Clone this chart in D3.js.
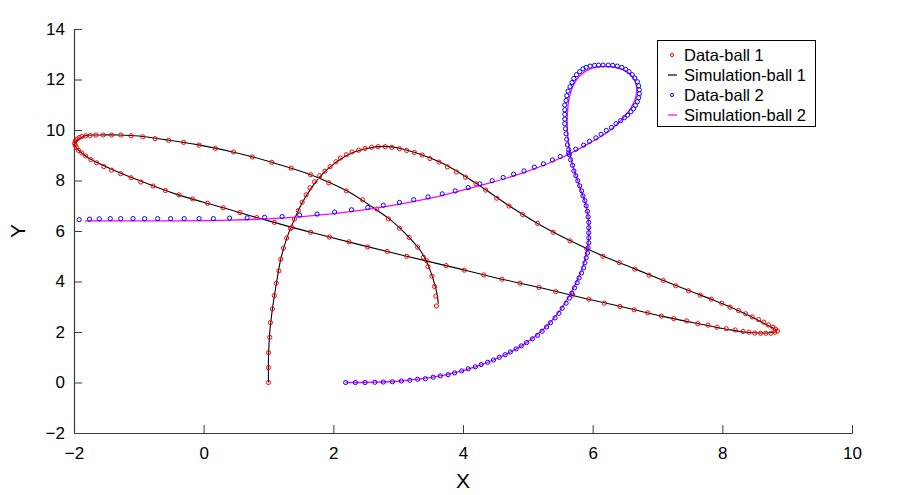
<!DOCTYPE html>
<html>
<head>
<meta charset="utf-8">
<script src="https://cdn.jsdelivr.net/npm/d3@7"></script>
<style>
  html, body { margin: 0; padding: 0; background: #fff; }
  svg { display: block; font-family: "Liberation Sans", Arial, Helvetica, sans-serif; }
</style>
</head>
<body>
<svg id="chart" width="898" height="495"></svg>
<script>
// ---- Data ----
const xTicks = [-2, 0, 2, 4, 6, 8, 10];
const yTicks = [-2, 0, 2, 4, 6, 8, 10, 12, 14];
const legendLabels = ["Data-ball 1", "Simulation-ball 1", "Data-ball 2", "Simulation-ball 2"];

const ball1Data = [
  [1.00,0.00],[1.00,0.59],[1.00,1.18],[1.02,1.79],[1.03,2.37],[1.06,2.91],[1.09,3.44],[1.12,3.93],
  [1.16,4.42],[1.19,4.88],[1.23,5.32],[1.28,5.72],[1.34,6.10],[1.40,6.47],[1.46,6.81],[1.52,7.14],
  [1.58,7.43],[1.64,7.71],[1.71,7.95],[1.79,8.19],[1.87,8.37],[1.95,8.55],[2.04,8.74],[2.11,8.89],
  [2.20,9.02],[2.29,9.13],[2.39,9.20],[2.49,9.27],[2.59,9.32],[2.69,9.34],[2.80,9.34],[2.90,9.31],
  [3.02,9.26],[3.13,9.19],[3.25,9.11],[3.37,9.01],[3.49,8.87],[3.63,8.73],[3.76,8.54],[3.90,8.34],
  [4.04,8.13],[4.20,7.87],[4.35,7.62],[4.52,7.30],[4.71,6.99],[4.92,6.65],[5.15,6.30],[5.39,5.95],
  [5.65,5.61],[5.91,5.29],[6.16,5.00],[6.41,4.75],[6.65,4.49],[6.87,4.25],[7.09,4.04],[7.28,3.83],
  [7.48,3.63],[7.66,3.46],[7.83,3.30],[7.99,3.14],[8.12,2.98],[8.25,2.85],[8.36,2.72],[8.46,2.60],
  [8.56,2.49],[8.64,2.39],[8.71,2.28],[8.78,2.19],[8.82,2.11],[8.85,2.04],[8.81,1.99],[8.75,1.95],
  [8.67,1.95],[8.59,1.95],[8.50,1.96],[8.41,1.99],[8.32,2.02],[8.20,2.08],[8.06,2.13],[7.92,2.19],
  [7.78,2.27],[7.62,2.33],[7.45,2.44],[7.25,2.53],[7.06,2.63],[6.85,2.76],[6.64,2.88],[6.42,3.01],
  [6.18,3.14],[5.94,3.30],[5.69,3.46],[5.43,3.60],[5.17,3.77],[4.88,3.93],[4.60,4.09],[4.32,4.26],
  [4.02,4.45],[3.74,4.63],[3.44,4.82],[3.13,5.00],[2.83,5.19],[2.53,5.37],[2.24,5.57],[1.94,5.76],
  [1.65,5.95],[1.36,6.14],[1.09,6.34],[0.82,6.53],[0.56,6.73],[0.30,6.92],[0.06,7.10],[-0.17,7.27],
  [-0.38,7.43],[-0.59,7.60],[-0.78,7.78],[-0.97,7.94],[-1.12,8.11],[-1.28,8.27],[-1.42,8.41],[-1.54,8.55],
  [-1.65,8.70],[-1.74,8.83],[-1.82,8.97],[-1.88,9.09],[-1.93,9.19],[-1.96,9.30],[-1.98,9.39],[-1.99,9.47],
  [-1.98,9.56],[-1.95,9.64],[-1.92,9.70],[-1.88,9.74],[-1.82,9.77],[-1.75,9.78],[-1.66,9.80],[-1.55,9.80],
  [-1.42,9.80],[-1.28,9.80],[-1.12,9.77],[-0.94,9.73],[-0.75,9.66],[-0.54,9.59],[-0.31,9.51],[-0.07,9.40],
  [0.18,9.27],[0.46,9.13],[0.75,8.93],[1.05,8.72],[1.35,8.49],[1.65,8.23],[1.93,7.91],[2.20,7.59],
  [2.45,7.24],[2.67,6.87],[2.85,6.48],[3.02,6.11],[3.17,5.74],[3.30,5.36],[3.39,4.96],[3.46,4.59],
  [3.52,4.21],[3.56,3.80],[3.58,3.42],[3.59,3.03]
];

const ball1Sim = [
  [1.00,0.00],[1.00,1.00],[1.02,2.00],[1.06,2.90],[1.12,3.90],[1.19,4.90],[1.28,5.70],[1.40,6.47],
  [1.52,7.12],[1.66,7.70],[1.83,8.25],[2.03,8.70],[2.25,9.05],[2.50,9.26],[2.78,9.35],[3.05,9.26],
  [3.35,9.03],[3.65,8.72],[3.95,8.30],[4.30,7.72],[4.70,7.02],[5.15,6.30],[5.65,5.62],[6.15,5.02],
  [6.65,4.50],[7.10,4.03],[7.50,3.62],[7.85,3.28],[8.15,2.96],[8.40,2.66],[8.60,2.40],[8.75,2.20],
  [8.84,2.05],[8.80,1.99],[8.60,1.96],[8.35,1.99],[8.05,2.12],[7.65,2.32],[7.10,2.61],[6.50,2.97],
  [5.90,3.32],[5.20,3.75],[4.50,4.15],[3.80,4.59],[3.10,5.02],[2.40,5.46],[1.70,5.92],[1.00,6.40],
  [0.30,6.92],[-0.40,7.44],[-0.95,7.96],[-1.35,8.37],[-1.62,8.68],[-1.80,8.93],[-1.92,9.18],[-1.99,9.45],
  [-1.84,9.76],[-1.60,9.80],[-1.30,9.80],[-1.00,9.76],[-0.60,9.62],[-0.10,9.42],[0.50,9.10],[1.05,8.72],
  [1.65,8.23],[2.20,7.60],[2.60,6.95],[2.90,6.40],[3.15,5.80],[3.35,5.20],[3.47,4.60],[3.55,4.00],
  [3.60,3.50],[3.62,3.12]
];

const ball2Data = [
  [2.19,0.00],[2.34,0.00],[2.49,0.00],[2.64,0.01],[2.77,0.02],[2.91,0.03],[3.05,0.06],[3.18,0.09],
  [3.30,0.13],[3.42,0.15],[3.54,0.21],[3.65,0.26],[3.77,0.31],[3.87,0.38],[3.98,0.46],[4.08,0.54],
  [4.19,0.62],[4.28,0.71],[4.38,0.80],[4.47,0.89],[4.56,1.00],[4.65,1.10],[4.73,1.21],[4.82,1.33],
  [4.90,1.45],[4.98,1.58],[5.07,1.73],[5.15,1.87],[5.22,2.03],[5.29,2.20],[5.35,2.37],[5.42,2.56],
  [5.48,2.74],[5.53,2.94],[5.59,3.14],[5.64,3.34],[5.68,3.54],[5.72,3.75],[5.76,3.95],[5.79,4.14],
  [5.83,4.34],[5.86,4.54],[5.88,4.74],[5.90,4.94],[5.92,5.13],[5.93,5.33],[5.94,5.53],[5.94,5.73],
  [5.94,5.93],[5.94,6.13],[5.94,6.34],[5.93,6.56],[5.92,6.78],[5.90,7.00],[5.88,7.20],[5.85,7.39],
  [5.83,7.59],[5.80,7.79],[5.77,7.99],[5.74,8.19],[5.71,8.38],[5.69,8.60],[5.66,8.82],[5.64,9.02],
  [5.63,9.22],[5.61,9.41],[5.60,9.63],[5.59,9.85],[5.58,10.05],[5.57,10.25],[5.57,10.43],[5.57,10.62],
  [5.57,10.80],[5.57,10.99],[5.59,11.17],[5.60,11.36],[5.62,11.54],[5.65,11.71],[5.68,11.88],[5.71,12.04],
  [5.75,12.19],[5.80,12.31],[5.85,12.42],[5.90,12.48],[5.96,12.53],[6.03,12.56],[6.09,12.57],[6.16,12.57],
  [6.24,12.57],[6.31,12.56],[6.38,12.53],[6.45,12.48],[6.51,12.40],[6.56,12.31],[6.61,12.19],[6.65,12.06],
  [6.69,11.91],[6.71,11.75],[6.72,11.59],[6.72,11.44],[6.71,11.28],[6.69,11.12],[6.66,10.97],[6.63,10.84],
  [6.59,10.72],[6.54,10.59],[6.49,10.49],[6.43,10.37],[6.36,10.25],[6.29,10.10],[6.21,9.98],[6.13,9.83],
  [6.05,9.69],[5.95,9.55],[5.86,9.40],[5.74,9.24],[5.63,9.09],[5.50,8.95],[5.38,8.81],[5.24,8.66],
  [5.10,8.53],[4.94,8.38],[4.78,8.25],[4.62,8.12],[4.45,7.99],[4.26,7.87],[4.08,7.72],[3.88,7.59],
  [3.68,7.47],[3.46,7.35],[3.24,7.24],[3.02,7.13],[2.77,7.02],[2.53,6.93],[2.28,6.84],[2.02,6.75],
  [1.75,6.67],[1.48,6.63],[1.21,6.57],[0.94,6.54],[0.67,6.52],[0.40,6.51],[0.15,6.49],[-0.07,6.49],
  [-0.30,6.49],[-0.51,6.49],[-0.71,6.49],[-0.91,6.49],[-1.09,6.49],[-1.28,6.49],[-1.44,6.49],[-1.61,6.48],
  [-1.76,6.47],[-1.92,6.45]
];

const ball2Sim = [
  [2.19,0.00],[2.60,0.01],[3.00,0.05],[3.40,0.16],[3.80,0.34],[4.20,0.63],[4.60,1.04],[4.95,1.53],
  [5.25,2.13],[5.50,2.87],[5.70,3.72],[5.85,4.60],[5.93,5.50],[5.94,6.30],[5.90,7.00],[5.82,7.60],
  [5.74,8.20],[5.67,8.80],[5.63,9.40],[5.61,10.00],[5.61,10.60],[5.63,11.15],[5.69,11.70],[5.80,12.15],
  [5.97,12.43],[6.18,12.52],[6.40,12.45],[6.56,12.25],[6.65,11.95],[6.68,11.60],[6.66,11.25],[6.60,10.92],
  [6.52,10.62],[6.29,10.03],[5.95,9.48],[5.50,8.88],[4.94,8.31],[4.26,7.80],[3.46,7.28],[2.53,6.86],
  [1.48,6.56],[0.40,6.43],[-0.50,6.40],[-1.30,6.40],[-1.83,6.40]
];

// ---- Layout ----
const svg = d3.select("#chart");
const x = d3.scaleLinear().domain([-2, 10]).range([74, 852]);
const y = d3.scaleLinear().domain([-2, 14]).range([433, 29]);
const axisColor = "#3a3a3a";

// axes
const xAxis = d3.axisBottom(x).tickValues(xTicks).tickSizeInner(-8).tickSizeOuter(0).tickPadding(10).tickFormat(d3.format("d"));
const yAxis = d3.axisLeft(y).tickValues(yTicks).tickSizeInner(-8).tickSizeOuter(0).tickPadding(9).tickFormat(d3.format("d"));

const gx = svg.append("g").attr("transform", `translate(0,${y(-2)})`).call(xAxis);
const gy = svg.append("g").attr("transform", `translate(${x(-2)},0)`).call(yAxis);
[gx, gy].forEach(g => {
  g.select(".domain").attr("stroke", axisColor).attr("stroke-width", 1.2);
  g.selectAll(".tick line").attr("stroke", axisColor).attr("stroke-width", 1);
  g.selectAll(".tick text").attr("fill", "#000").style("font-size", "17px")
    .style("font-family", "'Liberation Sans', Arial, sans-serif");
});
gx.selectAll(".tick text").attr("dy", "0.95em");

// axis titles
svg.append("text").attr("x", x(4)).attr("y", 488).attr("text-anchor", "middle")
  .style("font-size", "21px").text("X");
svg.append("text").attr("transform", `translate(25,${y(6)}) rotate(-90)`).attr("text-anchor", "middle")
  .style("font-size", "21px").text("Y");

const line = d3.line().x(d => x(d[0])).y(d => y(d[1])).curve(d3.curveCatmullRom.alpha(0.5));

// ball 1
svg.append("path").datum(ball1Sim).attr("d", line).attr("fill", "none").attr("stroke", "#000").attr("stroke-width", 1.1);
svg.append("g").selectAll("circle").data(ball1Data).join("circle")
  .attr("cx", d => x(d[0])).attr("cy", d => y(d[1])).attr("r", 2.1)
  .attr("fill", "none").attr("stroke", "#ff0000").attr("stroke-width", 1);

// ball 2
svg.append("path").datum(ball2Sim).attr("d", line).attr("fill", "none").attr("stroke", "#ff00ff").attr("stroke-width", 1.3);
svg.append("g").selectAll("circle").data(ball2Data).join("circle")
  .attr("cx", d => x(d[0])).attr("cy", d => y(d[1])).attr("r", 2.1)
  .attr("fill", "none").attr("stroke", "#0000ff").attr("stroke-width", 1);

// legend
const lg = svg.append("g");
lg.append("rect").attr("x", 657.5).attr("y", 40.5).attr("width", 158).attr("height", 86)
  .attr("fill", "#fff").attr("stroke", "#000").attr("stroke-width", 1);
const legendStyles = [
  {type: "marker", color: "#ff0000"},
  {type: "line", color: "#000"},
  {type: "marker", color: "#0000ff"},
  {type: "line", color: "#ff00ff"}
];
legendLabels.forEach((lab, i) => {
  const cy = 55 + i * 20;
  const st = legendStyles[i];
  if (st.type === "marker") {
    lg.append("circle").attr("cx", 672).attr("cy", cy).attr("r", 1.6)
      .attr("fill", "none").attr("stroke", st.color).attr("stroke-width", 1);
  } else {
    lg.append("line").attr("x1", 668).attr("x2", 677).attr("y1", cy).attr("y2", cy)
      .attr("stroke", st.color).attr("stroke-width", 1.2);
  }
  lg.append("text").attr("x", 684).attr("y", cy).attr("dy", "0.35em")
    .style("font-size", "16.5px").attr("fill", "#000").text(lab);
});
</script>
</body>
</html>
